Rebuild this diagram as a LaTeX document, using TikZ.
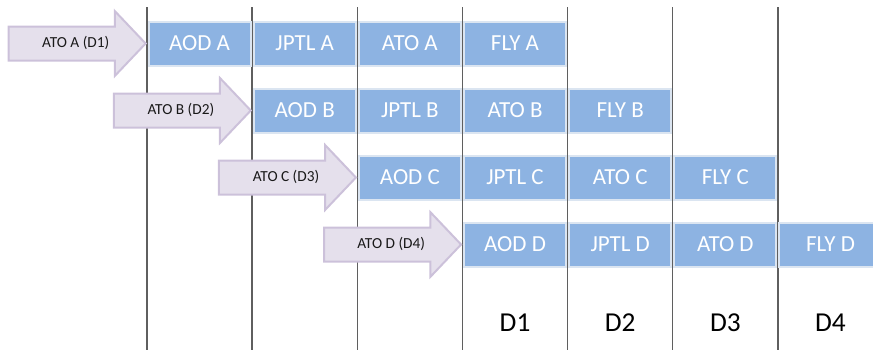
\documentclass[tikz,border=0pt]{standalone}
\usepackage{fontspec}
\setmainfont{Carlito}
\usetikzlibrary{positioning, shapes.arrows}
\definecolor{blockblue}{HTML}{8DB3E2}
\definecolor{blockedge}{HTML}{DBE5F1}
\definecolor{leadfill}{HTML}{E5E0EC}
\definecolor{leadedge}{HTML}{CCC1DA}
\definecolor{gridline}{HTML}{5F5F5F}

\begin{document}
\begin{tikzpicture}[x=0.75pt, y=-0.75pt,
		every block/.style={rectangle, fill=blockblue, draw=blockedge,
			line width=1.5pt, minimum width=76.5pt, minimum height=33pt,
			inner sep=0pt, text=white, font=\fontsize{17.25}{20}\selectfont},
		every lead/.style={single arrow, anchor=tip, fill=leadfill,
			draw=leadedge, line width=1.5pt, minimum height=102.75pt,
			single arrow head extend=11.6pt, single arrow tip angle=93,
			single arrow head indent=0pt, inner ysep=7pt, inner xsep=4pt,
			text height=8pt, text depth=2pt, text=black!90,
			font=\fontsize{11.5}{13}\selectfont},
		every day/.style={font=\fontsize{20.5}{24}\selectfont}]
		\useasboundingbox (0,0) rectangle (873,350);
		% day columns
		\foreach \c in {0,...,6} {
			\coordinate (top-\c) at ({147+105.15*\c},7);
			\coordinate (bot-\c) at ({147+105.15*\c},350);
			\draw [gridline, line width=1.1pt] (top-\c) -- (bot-\c);
		};
		% one row per aircraft
		\foreach \l/\d [count=\i from 0] in {A/1,B/2,C/3,D/4} {
			\node [every lead/.try] (lead-\l) at ({147+105.15*\i},{43.5+67*\i}) {
				\hspace*{10pt}ATO \l\ (D\d)
			};
			\foreach \t [count=\j from 0] in {AOD,JPTL,ATO,FLY} {
				\node [every block/.try] (\t-\l) at ({147+105.15*(\i+\j+0.5)},{43.5+67*\i}) {
					\t\ \l
				};
			};
			\node [every day/.try] (day-\d) at ({147+105.15*(\i+3.5)},323) {D\d};
		};

	\end{tikzpicture}
\end{document}
